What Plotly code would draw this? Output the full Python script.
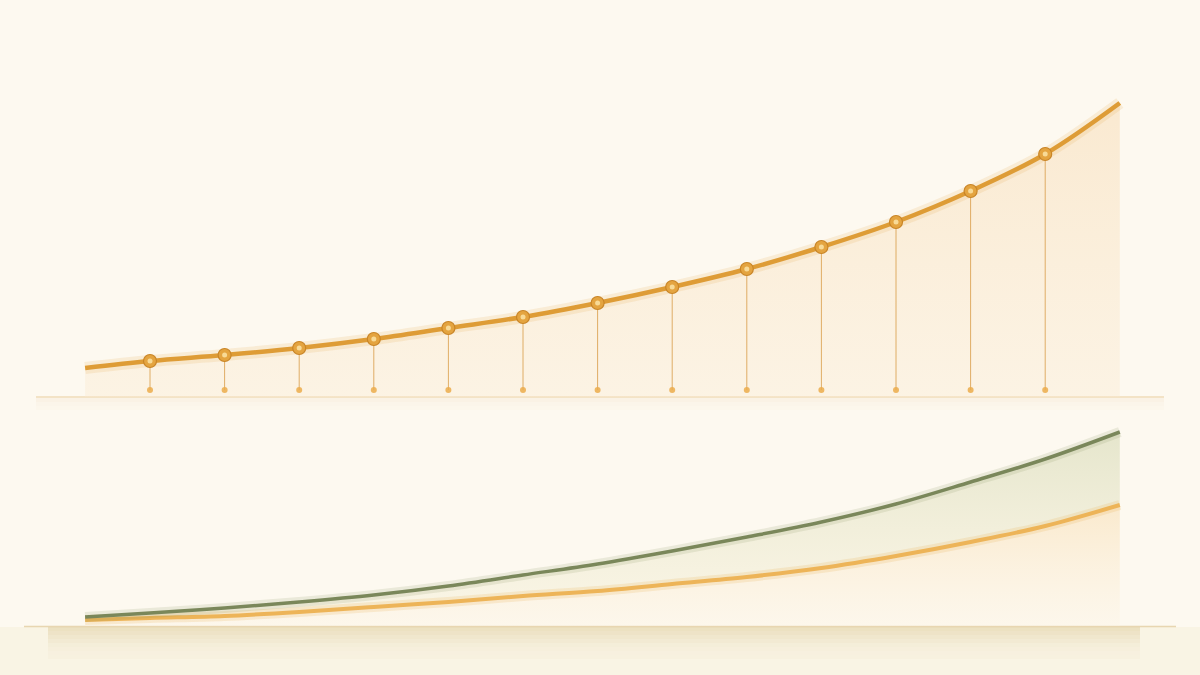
import plotly.graph_objects as go

# --- données ---
# panneau du haut : courbe orange avec jalons
periodes = [0.13, 1, 2, 3, 4, 5, 6, 7, 8, 9, 10, 11, 12, 13, 14]
valeurs_haut = [29, 36, 42, 49, 58, 69, 80, 94, 110, 128, 150, 175, 206, 243, 294]
jalons = [1, 2, 3, 4, 5, 6, 7, 8, 9, 10, 11, 12, 13]
valeurs_jalons = [36, 42, 49, 58, 69, 80, 94, 110, 128, 150, 175, 206, 243]
niveau_pied = 7

# panneau du bas : deux courbes
valeurs_vert = [9, 13, 18, 24, 31, 40, 51, 62, 75, 89, 104, 122, 144, 167, 194]
valeurs_orange = [6, 8, 10, 14, 19, 24, 30, 35, 42, 49, 58, 70, 84, 100, 121]

ORANGE = "#DE9C36"
ORANGE_FONCE = "#C98527"
ORANGE_CLAIR = "#EDB458"
VERT = "#7A875A"
FOND = "#FDF9F0"

fig = go.Figure()

# --- haut : aire dégradée sous la courbe
fig.add_trace(go.Scatter(
    x=periodes, y=valeurs_haut, mode="lines", line=dict(width=0, shape="spline"),
    fill="tozeroy",
    fillgradient=dict(type="vertical", colorscale=[[0, "rgba(250,232,205,0.35)"], [1, "rgba(246,214,170,0.45)"]]),
    hoverinfo="skip", xaxis="x", yaxis="y"))

# tiges verticales
tiges_x, tiges_y = [], []
for xj, yj in zip(jalons, valeurs_jalons):
    tiges_x += [xj, xj, None]
    tiges_y += [niveau_pied, yj, None]
fig.add_trace(go.Scatter(x=tiges_x, y=tiges_y, mode="lines",
                         line=dict(color="rgba(214,150,60,0.75)", width=1),
                         hoverinfo="skip", xaxis="x", yaxis="y"))
fig.add_trace(go.Scatter(x=jalons, y=[niveau_pied] * len(jalons), mode="markers",
                         marker=dict(color="rgba(235,172,75,0.85)", size=6),
                         hoverinfo="skip", xaxis="x", yaxis="y"))

# ombre + courbe
fig.add_trace(go.Scatter(x=periodes, y=valeurs_haut, mode="lines",
                         line=dict(color="rgba(230,160,60,0.15)", width=12, shape="spline"),
                         hoverinfo="skip", xaxis="x", yaxis="y"))
fig.add_trace(go.Scatter(x=periodes, y=valeurs_haut, mode="lines",
                         line=dict(color=ORANGE, width=4.5, shape="spline"),
                         hoverinfo="skip", xaxis="x", yaxis="y"))
fig.add_trace(go.Scatter(x=jalons, y=valeurs_jalons, mode="markers",
                         marker=dict(color="#E4A440", size=13, line=dict(color=ORANGE_FONCE, width=1.2)),
                         hoverinfo="skip", xaxis="x", yaxis="y"))
fig.add_trace(go.Scatter(x=jalons, y=valeurs_jalons, mode="markers",
                         marker=dict(color="#F8DA96", size=5),
                         hoverinfo="skip", xaxis="x", yaxis="y"))

# --- bas : aire orange puis aire verte
fig.add_trace(go.Scatter(
    x=periodes, y=valeurs_orange, mode="lines", line=dict(width=0, shape="spline"),
    fill="tozeroy",
    fillgradient=dict(type="vertical", colorscale=[[0, "rgba(252,242,225,0.3)"], [1, "rgba(247,218,170,0.5)"]]),
    hoverinfo="skip", xaxis="x2", yaxis="y2"))
fig.add_trace(go.Scatter(
    x=periodes, y=valeurs_vert, mode="lines", line=dict(width=0, shape="spline"),
    fill="tonexty",
    fillgradient=dict(type="vertical", colorscale=[[0, "rgba(245,238,210,0.35)"], [1, "rgba(210,214,175,0.55)"]]),
    hoverinfo="skip", xaxis="x2", yaxis="y2"))
fig.add_trace(go.Scatter(x=periodes, y=valeurs_orange, mode="lines",
                         line=dict(color="rgba(235,170,70,0.18)", width=10, shape="spline"),
                         hoverinfo="skip", xaxis="x2", yaxis="y2"))
fig.add_trace(go.Scatter(x=periodes, y=valeurs_orange, mode="lines",
                         line=dict(color=ORANGE_CLAIR, width=4, shape="spline"),
                         hoverinfo="skip", xaxis="x2", yaxis="y2"))
fig.add_trace(go.Scatter(x=periodes, y=valeurs_vert, mode="lines",
                         line=dict(color="rgba(130,140,90,0.15)", width=10, shape="spline"),
                         hoverinfo="skip", xaxis="x2", yaxis="y2"))
fig.add_trace(go.Scatter(x=periodes, y=valeurs_vert, mode="lines",
                         line=dict(color=VERT, width=3.5, shape="spline"),
                         hoverinfo="skip", xaxis="x2", yaxis="y2"))

# décor : lignes de base et bandes d'ombre (coordonnées papier)
H = 675.0
def py(p):
    return 1 - p / H

formes = []
# bande beige dégradée sous le panneau du bas
for i, a in enumerate([0.45, 0.38, 0.30, 0.22, 0.15, 0.10, 0.07, 0.05]):
    formes.append(dict(type="rect", xref="paper", yref="paper", x0=0.04, x1=0.95,
                       y0=py(627 + 4 * (i + 1)), y1=py(627 + 4 * i),
                       fillcolor=f"rgba(218,198,145,{a})", line=dict(width=0), layer="below"))
formes.append(dict(type="rect", xref="paper", yref="paper", x0=0, x1=1,
                   y0=0, y1=py(627), fillcolor="rgba(235,220,180,0.18)",
                   line=dict(width=0), layer="below"))
# ombre douce sous la ligne de base du haut
for i, a in enumerate([0.14, 0.08, 0.04]):
    formes.append(dict(type="rect", xref="paper", yref="paper", x0=0.03, x1=0.97,
                       y0=py(398 + 4 * (i + 1)), y1=py(398 + 4 * i),
                       fillcolor=f"rgba(235,205,160,{a})", line=dict(width=0), layer="below"))
formes += [
    dict(type="line", xref="paper", yref="paper", x0=0.03, x1=0.97, y0=py(397), y1=py(397),
         line=dict(color="rgba(238,212,170,0.8)", width=1.5), layer="below"),
    dict(type="line", xref="paper", yref="paper", x0=0.02, x1=0.98, y0=py(626.5), y1=py(626.5),
         line=dict(color="rgba(222,200,150,0.7)", width=1.5), layer="below"),
]

x_range = [-75.4 / 74.6, (1200 - 75.4) / 74.6]
axe_cache = dict(visible=False, showgrid=False, zeroline=False, fixedrange=True)

fig.update_layout(
    width=1200, height=675,
    margin=dict(l=0, r=0, t=0, b=0),
    paper_bgcolor=FOND, plot_bgcolor="rgba(0,0,0,0)",
    showlegend=False,
    shapes=formes,
    xaxis=dict(axe_cache, range=x_range, domain=[0, 1], anchor="y"),
    yaxis=dict(axe_cache, range=[0, 300], domain=[py(397), py(97)], anchor="x"),
    xaxis2=dict(axe_cache, range=x_range, domain=[0, 1], anchor="y2"),
    yaxis2=dict(axe_cache, range=[0, 200], domain=[py(626), py(426)], anchor="x2"),
)

fig.write_html("out.html", config={"displayModeBar": False},
               post_script="document.body.style.margin='0';document.body.style.overflow='hidden';")
